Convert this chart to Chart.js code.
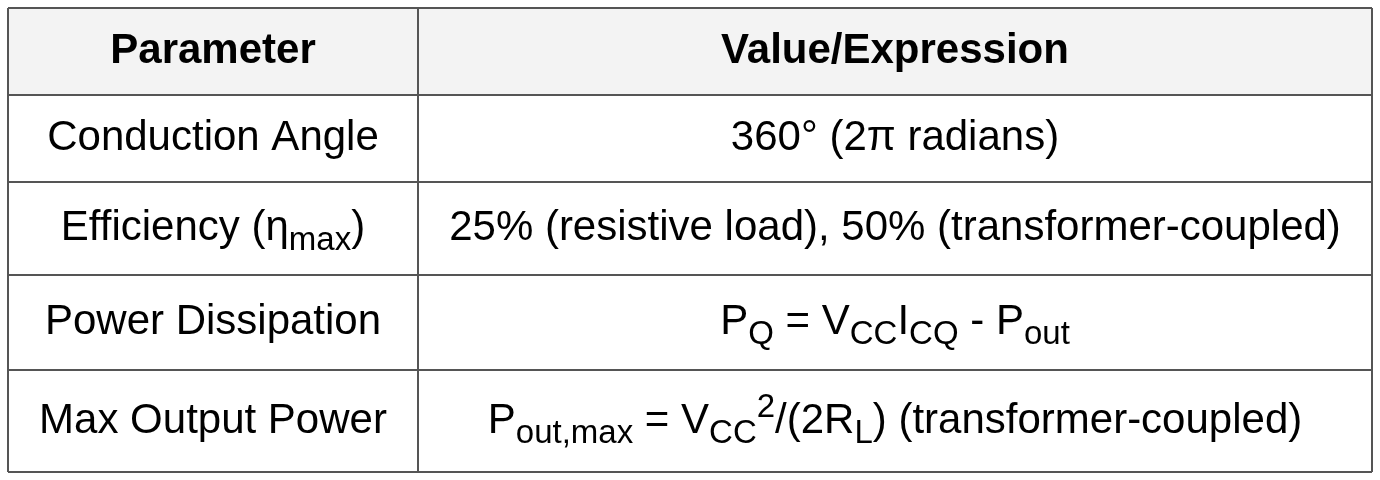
<!DOCTYPE html>
<html><head><meta charset="utf-8">
<script src="https://cdn.jsdelivr.net/npm/chart.js@4/dist/chart.umd.min.js"></script>
<style>html,body{margin:0;padding:0;background:#fff}</style>
</head><body>
<canvas id="c" width="1380" height="480"></canvas>
<script>
const headers = ["Parameter", "Value/Expression"];
const parameters = [
  [{t:"Conduction Angle"}],
  [{t:"Efficiency (η"},{t:"max",sub:1},{t:")"}],
  [{t:"Power Dissipation"}],
  [{t:"Max Output Power"}]
];
const values = [
  [{t:"360° (2π radians)"}],
  [{t:"25% (resistive load), 50% (transformer-coupled)"}],
  [{t:"P"},{t:"Q",sub:1},{t:" = V"},{t:"CC",sub:1},{t:"I"},{t:"CQ",sub:1},{t:" - P"},{t:"out",sub:1}],
  [{t:"P"},{t:"out,max",sub:1},{t:" = V"},{t:"CC",sub:1},{t:"2",sup:1},{t:"/(2R"},{t:"L",sub:1},{t:") (transformer-coupled)"}]
];
const rowEdges = [0, 87, 174, 267, 362, 464];
const colEdges = [0, 410, 1364];

const FONT = '"Liberation Sans", Arial, sans-serif';
function drawRich(ctx, segs, cx, cy, size, bold){
  const main = (bold?'bold ':'') + size + 'px ' + FONT;
  const small = (bold?'bold ':'') + Math.round(size*0.78) + 'px ' + FONT;
  let w = 0;
  segs.forEach(s=>{ctx.font = (s.sub||s.sup)?small:main; w += ctx.measureText(s.t).width;});
  let x = cx - w/2;
  ctx.textBaseline = 'middle'; ctx.textAlign = 'left'; ctx.fillStyle = '#000';
  segs.forEach(s=>{
    ctx.font = (s.sub||s.sup)?small:main;
    const dy = s.sub ? size*0.3 : (s.sup ? -size*0.32 : 0);
    ctx.fillText(s.t, x, cy+dy);
    x += ctx.measureText(s.t).width;
  });
}
const tablePlugin = {
  id:'table',
  afterDraw(chart){
    const ctx = chart.ctx, xs = chart.scales.x, ys = chart.scales.y;
    const X = v=>xs.getPixelForValue(v), Y = v=>ys.getPixelForValue(v);
    ctx.save();
    ctx.fillStyle = '#f3f3f3';
    ctx.fillRect(X(0), Y(rowEdges[0]), X(1364)-X(0), Y(rowEdges[1])-Y(rowEdges[0]));
    ctx.strokeStyle = '#555'; ctx.lineWidth = 2;
    rowEdges.forEach(r=>{ctx.beginPath();ctx.moveTo(X(0),Y(r));ctx.lineTo(X(1364),Y(r));ctx.stroke();});
    colEdges.forEach(c=>{ctx.beginPath();ctx.moveTo(X(c),Y(0));ctx.lineTo(X(c),Y(464));ctx.stroke();});
    const cxs = [ (X(colEdges[0])+X(colEdges[1]))/2, (X(colEdges[1])+X(colEdges[2]))/2 ];
    const cy = i => (Y(rowEdges[i])+Y(rowEdges[i+1]))/2;
    headers.forEach((h,j)=>drawRich(ctx,[{t:h}],cxs[j],cy(0),42,true));
    parameters.forEach((p,i)=>drawRich(ctx,p,cxs[0],cy(i+1),42,false));
    values.forEach((v,i)=>drawRich(ctx,v,cxs[1],cy(i+1),42,false));
    ctx.restore();
  }
};
new Chart(document.getElementById('c'), {
  type:'scatter',
  data:{datasets:[{data:[]}]},
  options:{
    responsive:false, animation:false, devicePixelRatio:1,
    layout:{padding:{left:8,right:8,top:8,bottom:8}},
    plugins:{legend:{display:false},tooltip:{enabled:false}},
    scales:{
      x:{type:'linear',min:0,max:1364,display:false},
      y:{type:'linear',min:0,max:464,reverse:true,display:false}
    }
  },
  plugins:[tablePlugin]
});
</script>
</body></html>
